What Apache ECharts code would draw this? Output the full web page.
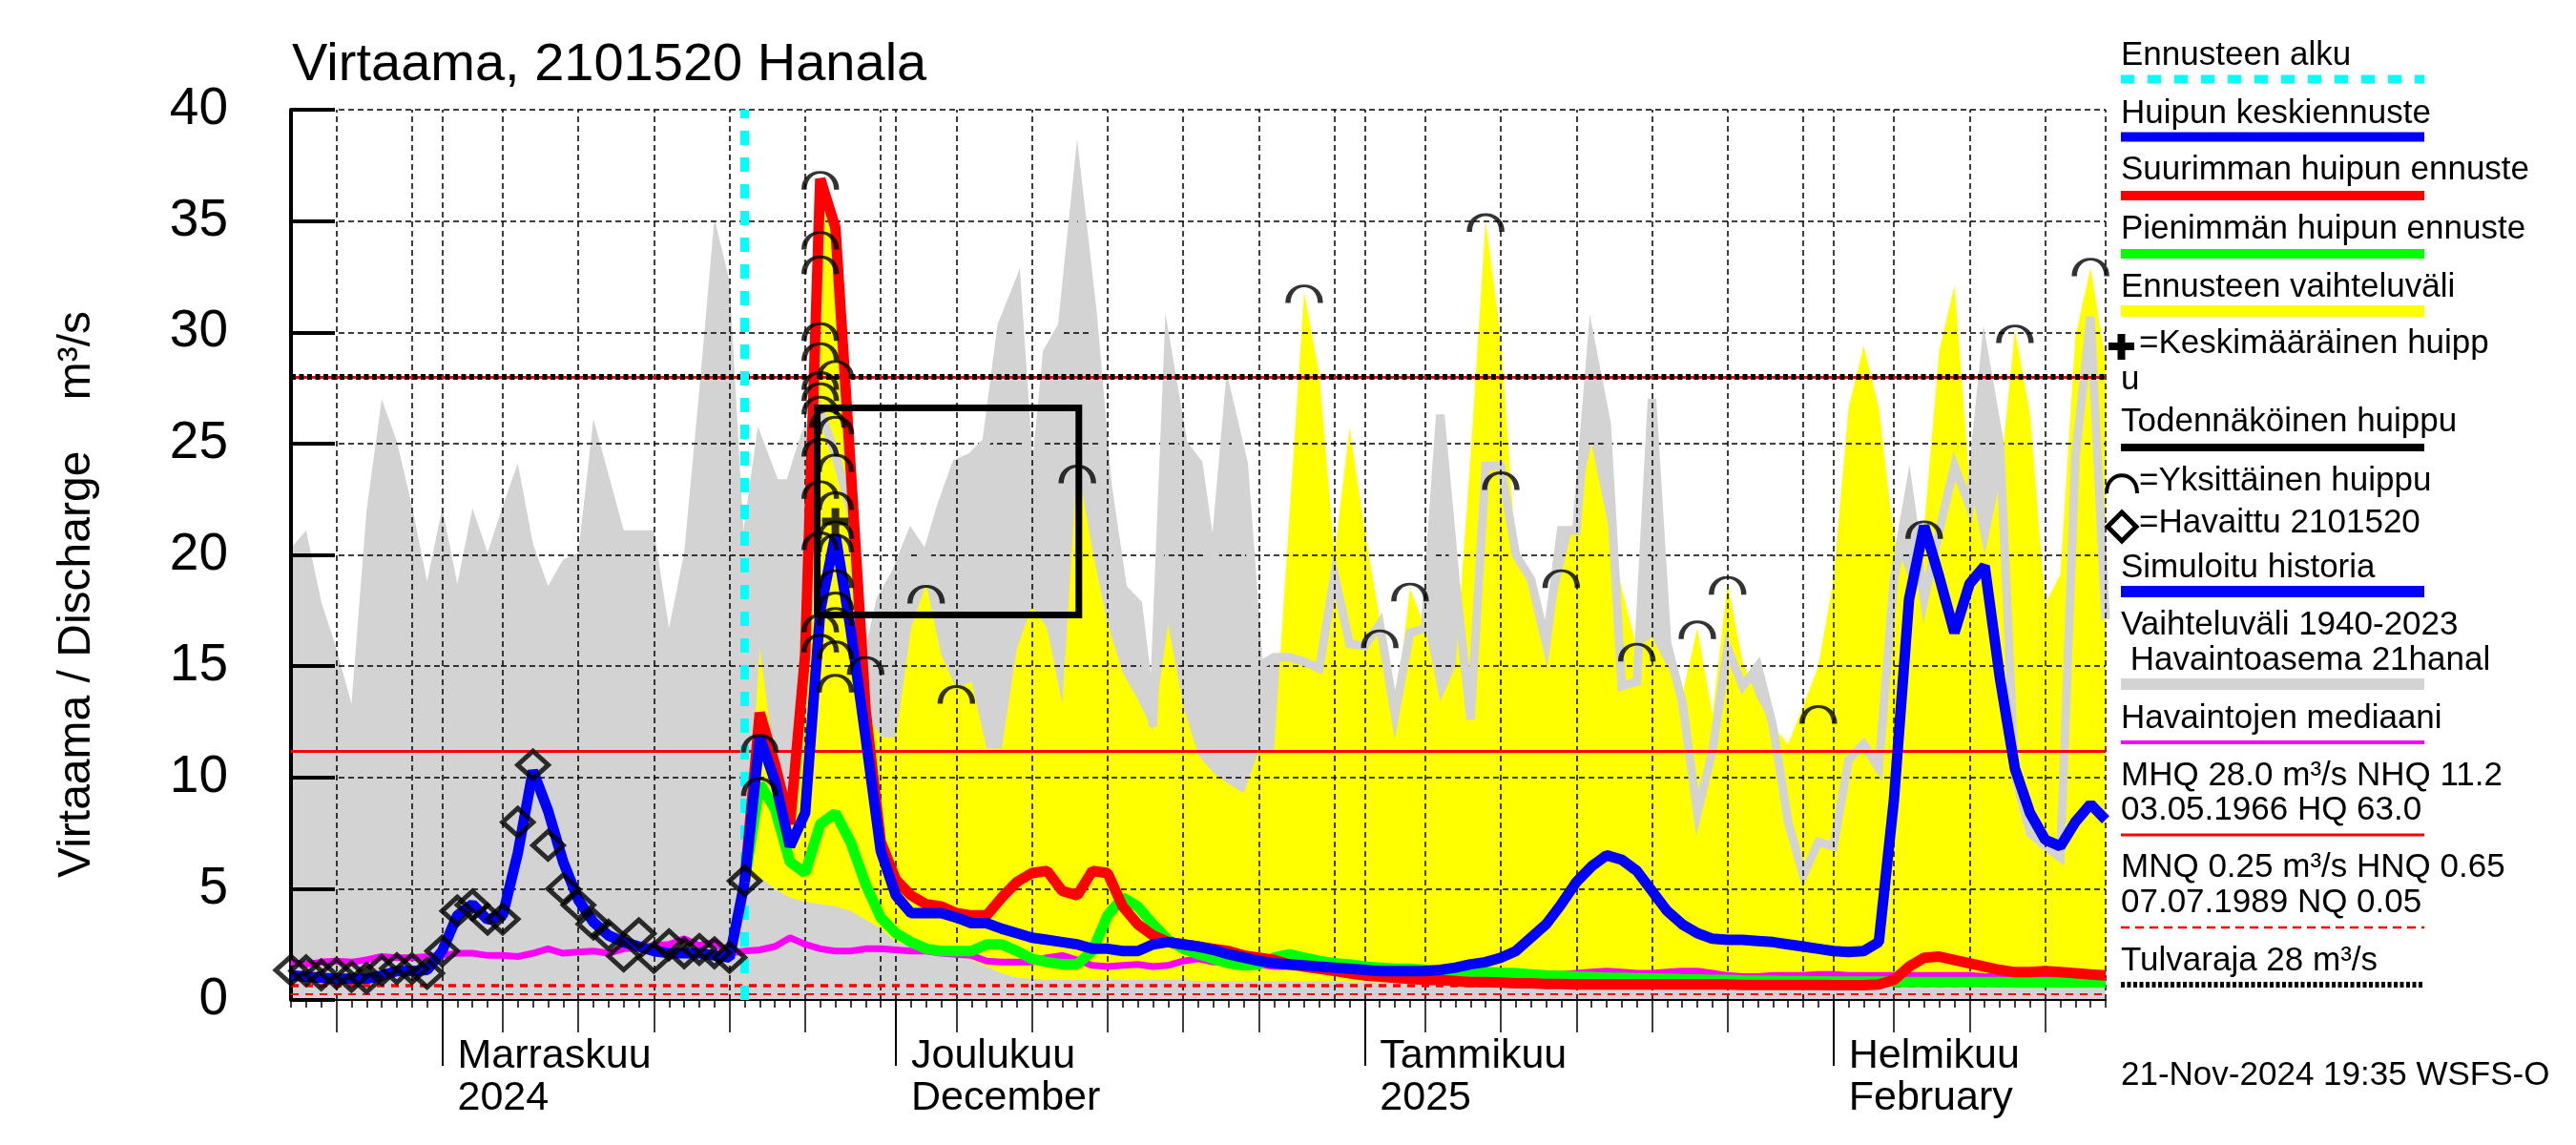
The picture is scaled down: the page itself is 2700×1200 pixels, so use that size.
<!DOCTYPE html>
<html><head><meta charset="utf-8">
<script src="https://cdn.jsdelivr.net/npm/echarts@6/dist/echarts.min.js"></script>
<style>html,body{margin:0;padding:0;background:#fff}#c{width:2700px;height:1200px}</style>
</head><body><div id="c"></div><script>
// ---------------- DATA (x = day index: 0 = 22 Oct 2024, 120 = 19 Feb 2025) ----------------
const observed = [1.34,1.31,1.13,1.2,1.05,0.98,1.34,1.41,1.41,1.2,2.2,4.0,4.27,3.63,3.63,7.99,10.56,6.95,5.0,4.27,3.41,2.91,1.98,2.98,1.91,2.48,2.12,2.27,2.12,1.91,5.35];
const simHistory = [1.1,1.05,1.0,0.95,0.95,0.95,1.1,1.3,1.3,1.35,2.2,3.8,4.3,3.6,3.8,6.6,10.3,8.5,6.2,4.5,3.5,2.9,2.6,2.4,2.2,2.1,2.1,2.1,2.0,1.9,5.3];
const forecastStart = 30;
const meanForecast = [5.3,11.8,9.85,6.9,8.4,17.5,20.9,16.7,11.8,6.7,
 4.7,3.9,3.9,3.9,3.7,3.45,3.45,3.2,3.0,2.8,
 2.7,2.6,2.5,2.3,2.3,2.2,2.2,2.5,2.6,2.5,
 2.4,2.25,2.05,1.9,1.75,1.65,1.6,1.55,1.5,1.45,
 1.4,1.35,1.3,1.3,1.3,1.3,1.35,1.45,1.6,1.7,
 1.9,2.2,2.8,3.4,4.3,5.3,6.0,6.5,6.3,5.8,
 4.9,4.0,3.4,3.0,2.75,2.7,2.7,2.65,2.6,2.5,
 2.4,2.3,2.2,2.15,2.2,2.6,9.0,18.0,21.3,19.0,
 16.5,18.7,19.5,14.5,10.4,8.4,7.2,6.9,8.0,8.8,8.1];
const maxForecast = [5.3,12.9,10.6,7.9,15.5,36.9,34.7,24.0,13.0,7.1,
 5.4,4.7,4.3,4.2,3.9,3.8,3.8,4.6,5.3,5.7,
 5.8,4.9,4.7,5.8,5.7,4.2,3.4,2.9,2.6,2.5,
 2.4,2.3,2.2,2.0,1.9,1.8,1.6,1.5,1.4,1.3,
 1.2,1.1,1.05,1.0,0.95,0.9,0.9,0.85,0.8,0.8,
 0.78,0.75,0.75,0.72,0.72,0.7,0.7,0.7,0.7,0.7,
 0.7,0.7,0.7,0.7,0.7,0.7,0.68,0.68,0.68,0.68,
 0.68,0.68,0.66,0.66,0.66,0.7,0.9,1.5,1.9,1.95,
 1.8,1.65,1.5,1.35,1.25,1.25,1.3,1.25,1.2,1.15,1.1];
const minForecast = [5.3,9.7,8.6,6.2,5.7,7.9,8.4,7.1,5.2,3.7,
 3.0,2.6,2.3,2.2,2.2,2.2,2.5,2.5,2.2,1.85,
 1.7,1.6,1.6,2.2,3.8,4.6,4.2,3.4,2.7,2.3,
 2.06,1.85,1.65,1.55,1.6,1.9,2.05,1.9,1.75,1.65,
 1.6,1.5,1.45,1.4,1.4,1.35,1.3,1.3,1.28,1.25,
 1.22,1.2,1.15,1.1,1.08,1.05,1.03,1.0,1.0,0.98,
 0.95,0.95,0.93,0.92,0.9,0.9,0.88,0.87,0.86,0.85,
 0.85,0.84,0.83,0.82,0.82,0.82,0.82,0.8,0.8,0.8,
 0.8,0.8,0.8,0.8,0.78,0.78,0.78,0.78,0.78,0.78,0.78];
const rangeHigh = [5.3,15.8,10.6,7.9,15.5,36.9,34.7,24.0,13.0,11.8,
 11.8,16.7,18.7,15.5,14.0,14.3,11.3,11.3,15.8,17.7,
 16.7,13.3,24.1,20.2,16.9,14.7,13.5,12.1,16.9,13.2,
 11.0,10.2,9.7,9.3,11.2,11.2,21.5,31.8,28.1,20.0,
 25.7,21.1,17.1,12.8,18.5,16.7,13.4,15.0,24.4,35.0,
 29.8,20.0,18.9,16.1,19.1,22.0,25.0,21.7,18.5,15.8,
 16.3,15.0,13.7,16.7,12.8,18.7,15.2,13.5,12.3,11.5,
 13.2,15.0,18.9,26.6,29.4,26.6,20.7,18.9,21.3,29.2,
 32.1,23.3,20.0,23.3,30.1,26.3,17.8,19.1,29.8,32.9,28.7];
const rangeLow = [5.3,5.5,5.0,4.6,4.4,4.3,4.2,4.0,3.6,3.2,
 2.6,2.4,2.2,2.1,2.0,1.8,1.5,1.2,1.0,0.95,
 0.9,0.9,0.9,0.9,0.9,0.9,0.9,0.9,0.9,0.9,
 0.85,0.85,0.85,0.85,0.85,0.85,0.85,0.85,0.85,0.85,
 0.8,0.8,0.8,0.8,0.8,0.8,0.8,0.8,0.8,0.8,
 0.75,0.75,0.75,0.75,0.75,0.75,0.75,0.75,0.75,0.75,
 0.72,0.72,0.72,0.72,0.72,0.72,0.72,0.72,0.72,0.72,
 0.68,0.68,0.68,0.68,0.68,0.68,0.68,0.68,0.68,0.68,
 0.68,0.68,0.68,0.68,0.68,0.68,0.68,0.68,0.68,0.68,0.68];
const histMax = [20.3,21.1,17.9,15.8,13.3,22.0,27.0,25.1,22.2,18.8,
 22.1,18.7,22.1,20.1,22.2,24.1,20.5,18.6,19.8,20.1,
 26.1,23.6,21.1,21.1,21.1,16.7,20.1,27.4,35.1,32.3,
 20.1,25.0,23.2,23.2,25.4,26.5,24.5,22.0,15.0,18.0,
 19.2,20.9,19.9,22.2,24.1,24.4,25.1,30.3,32.0,21.9,
 29.1,30.3,36.9,30.9,23.1,18.5,17.8,12.3,29.0,25.0,
 24.1,19.3,27.0,24.1,15.0,15.4,15.4,15.2,14.9,19.1,
 16.0,15.9,16.9,12.8,16.5,16.7,26.3,18.9,12.6,24.0,
 24.0,20.0,18.9,16.0,21.1,21.1,29.4,25.9,14.1,14.3,
 27.0,16.0,13.4,8.4,11.2,15.8,14.1,15.0,12.3,8.0,
 5.6,7.1,6.9,10.8,11.5,10.4,18.9,22.8,18.0,21.1,
 24.0,22.2,28.9,25.0,10.1,7.5,6.9,6.4,24.4,30.7,17.1];
const histMin = 0;
const median = [1.7,1.6,1.7,1.75,1.7,1.8,1.95,1.9,1.9,1.95,
 2.0,2.1,2.1,2.0,2.0,1.95,2.1,2.3,2.1,2.15,
 2.2,2.1,2.3,2.35,2.45,2.5,2.75,2.45,2.6,2.1,
 2.2,2.25,2.4,2.8,2.5,2.3,2.2,2.2,2.3,2.3,
 2.25,2.2,2.2,2.1,2.05,2.0,1.75,1.7,1.7,1.7,
 1.9,2.0,1.8,1.55,1.5,1.55,1.6,1.5,1.55,1.75,
 1.85,1.7,1.75,1.8,1.6,1.5,1.5,1.5,1.5,1.5,
 1.45,1.4,1.35,1.35,1.3,1.3,1.25,1.25,1.2,1.15,
 1.1,1.1,1.05,1.1,1.15,1.2,1.25,1.3,1.25,1.2,
 1.2,1.25,1.3,1.3,1.2,1.1,1.05,1.05,1.1,1.1,
 1.1,1.15,1.15,1.1,1.1,1.1,1.1,1.1,1.1,1.1,
 1.1,1.1,1.05,1.05,1.05,1.05,1.05,1.0,1.0,1.0,1.0];
const singlePeaks = [[35,37.1],[35,34.4],[35,33.3],[35,30.3],[35,29.4],[36,28.6],[35,28.1],[35,27.6],[35,27.0],
 [35.5,26.4],[36,26.1],[35,25.1],[36,24.4],[35,23.2],[36,22.7],[35,20.9],[36,21.4],[36,20.8],[36,19.2],
 [36,18.2],[35,17.2],[36,17.5],[35,16.3],[36,16.0],[36,14.5],[38,15.3],[42,18.5],[44,14.0],[52,23.9],
 [31,11.8],[31,9.85],[67,32.0],[72,16.5],[74,18.6],[79,35.2],[80,23.6],[84,19.2],[89,15.9],[93,16.9],
 [95,18.9],[101,13.1],[108,21.4],[114,30.2],[119,33.2]];
const meanPeak = [[36,21.5]];
const probablePeakDays = [34.8, 52.1];
const probablePeakValues = [17.3, 26.6];
const MHQ = 28.0, NHQ = 11.2, HNQ = 0.65, MNQ = 0.25, floodLimit = 28;
const monthDays = [10, 40, 71, 102];
const monthLabels = ['Marraskuu\n2024', 'Joulukuu\nDecember', 'Tammikuu\n2025', 'Helmikuu\nFebruary'];
const fiveDayTicks = [3,14,19,24,29,34,44,49,54,59,64,75,80,85,90,95,106,111,116];
const gridDays = [3,8,10,14,19,24,29,34,39,40,44,49,54,59,64,69,71,75,80,85,90,95,100,102,106,111,116,120];
const dayCount = 120;

// ---------------- BUILD ----------------
const FONT = "'Liberation Sans', Arial, Helvetica, sans-serif";
const pairs = (start, arr) => arr.map((v, i) => [start + i, v]);
const dailyTicks = []; for (let d = 0; d <= dayCount; d++) dailyTicks.push(d);
const boxData = [[probablePeakDays[0], probablePeakValues[0]], [probablePeakDays[0], probablePeakValues[1]],
  [probablePeakDays[1], probablePeakValues[1]], [probablePeakDays[1], probablePeakValues[0]], [probablePeakDays[0], probablePeakValues[0]]];

const baseX = { type: 'value', min: 0, max: dayCount, position: 'bottom', offset: 0, z: 3,
  splitLine: { show: false }, axisLine: { show: false }, axisLabel: { show: false } };
const xAxes = [
  Object.assign({}, baseX, { axisLine: { show: true, lineStyle: { color: '#000', width: 2 } },
    axisTick: { show: true, customValues: dailyTicks, length: 8, lineStyle: { color: '#000', width: 1.5 } } }),
  Object.assign({}, baseX, { axisTick: { show: true, customValues: fiveDayTicks, length: 34, lineStyle: { color: '#000', width: 1.5 } } }),
  Object.assign({}, baseX, { axisTick: { show: true, customValues: monthDays, length: 69, lineStyle: { color: '#000', width: 2 } },
    axisLabel: { show: true, customValues: monthDays, formatter: v => monthLabels[monthDays.indexOf(v)] || '',
      align: 'left', padding: [0, 0, 0, 16], margin: 37, fontSize: 43, lineHeight: 44, color: '#000', fontFamily: FONT } })
];

const L = 2223, R = 2541;
const gfx = [];
function txt(t, x, base, size, extra) {
  gfx.push(Object.assign({ type: 'text', x: x, y: base - 0.35 * size, z: 100,
    style: { text: t, fontSize: size, fontFamily: FONT, fill: '#000', align: 'left', verticalAlign: 'middle' } }, extra || {}));
}
function ln(y, color, w, dash) {
  gfx.push({ type: 'line', z: 100, shape: { x1: L, y1: y, x2: R, y2: y }, style: { stroke: color, lineWidth: w, lineDash: dash || null } });
}
txt('Virtaama, 2101520 Hanala', 306, 88, 56);
gfx.push({ type: 'text', x: 81, y: 623, rotation: Math.PI / 2, z: 100,
  style: { text: 'Virtaama / Discharge    m³/s', fontSize: 48, fontFamily: FONT, fill: '#000', align: 'center', verticalAlign: 'middle' } });
txt('Ennusteen alku', L, 71, 35); ln(83, '#00ffff', 9, [14, 14]);
txt('Huipun keskiennuste', L, 132, 35); ln(143.5, '#0000ff', 10);
txt('Suurimman huipun ennuste', L, 191, 35); ln(205, '#ff0000', 10);
txt('Pienimmän huipun ennuste', L, 253, 35); ln(266, '#00ff00', 10);
txt('Ennusteen vaihteluväli', L, 314, 35); ln(326, '#ffff00', 12);
gfx.push({ type: 'rect', z: 100, shape: { x: 2210, y: 359, width: 27, height: 8 }, style: { fill: '#000' } });
gfx.push({ type: 'rect', z: 100, shape: { x: 2219.5, y: 350, width: 8, height: 27 }, style: { fill: '#000' } });
txt('=Keskimääräinen huipp', 2242, 373, 35);
txt('u', L, 411, 35);
txt('Todennäköinen huippu', L, 455, 35); ln(469, '#000', 8);
gfx.push({ type: 'bezierCurve', z: 100,
  shape: { x1: 2208, y1: 517, cpx1: 2208, cpy1: 492, cpx2: 2240, cpy2: 492, x2: 2240, y2: 517 },
  style: { stroke: '#000', lineWidth: 4, fill: null } });
txt('=Yksittäinen huippu', 2242, 517, 35);
gfx.push({ type: 'polygon', z: 100, shape: { points: [[2209, 552], [2224, 537], [2239, 552], [2224, 567]] },
  style: { stroke: '#000', lineWidth: 5, fill: null } });
txt('=Havaittu 2101520', 2242, 561, 35);
txt('Simuloitu historia', L, 608, 35); ln(620, '#0000ff', 12);
txt('Vaihteluväli 1940-2023', L, 668, 35);
txt(' Havaintoasema 21hanal', L, 705, 35); ln(717, '#d3d3d3', 12);
txt('Havaintojen mediaani', L, 766, 35); ln(778, '#ff00ff', 4);
txt('MHQ 28.0 m³/s NHQ 11.2', L, 826, 35);
txt('03.05.1966 HQ 63.0', L, 862, 35); ln(875, '#ff0000', 3);
txt('MNQ 0.25 m³/s HNQ 0.65', L, 922, 35);
txt('07.07.1989 NQ 0.05', L, 959, 35); ln(972, '#ff0000', 2.5, [9, 6]);
txt('Tulvaraja 28 m³/s', L, 1020, 35); ln(1032, '#000', 6, [4, 2.5]);
txt('21-Nov-2024 19:35 WSFS-O', L, 1140, 35);

const lineBase = { type: 'line', symbol: 'none', showSymbol: false, smooth: false, silent: true, animation: false };
const ml = (data) => ({ silent: true, symbol: ['none', 'none'], label: { show: false }, animation: false, data: data });
const GREY = '#d3d3d3';

const option = {
  animation: false,
  backgroundColor: '#fff',
  grid: { left: 305, top: 115, right: 493, bottom: 152, containLabel: false },
  xAxis: xAxes,
  yAxis: { type: 'value', min: 0, max: 40, interval: 5, z: 3,
    axisLine: { show: true, lineStyle: { color: '#000', width: 4 } },
    axisTick: { show: true, inside: true, length: 46, lineStyle: { color: '#000', width: 4 } },
    axisLabel: { fontSize: 55, fontFamily: FONT, color: '#000', margin: 66, padding: [0, 0, 16, 0] },
    splitLine: { show: true, lineStyle: { color: '#000', width: 1.5, type: [6, 4] } } },
  graphic: gfx,
  series: [
    // historical range 1940-2023 (from its minimum up to its maximum)
    Object.assign({}, lineBase, { name: 'hist', data: pairs(0, histMax), z: 1, lineStyle: { width: 0 },
      areaStyle: { color: GREY, opacity: 1, origin: histMin } }),
    // forecast range: yellow up to rangeHigh; below rangeLow the historical range colour shows
    Object.assign({}, lineBase, { name: 'rangeHigh', data: pairs(forecastStart, rangeHigh), z: 2, lineStyle: { width: 0 },
      areaStyle: { color: '#ffff00', opacity: 1, origin: 0 } }),
    Object.assign({}, lineBase, { name: 'rangeLow', data: pairs(forecastStart, rangeLow), z: 2, lineStyle: { width: 0 },
      areaStyle: { color: GREY, opacity: 1, origin: 0 } }),
    Object.assign({}, lineBase, { name: 'vgrid', data: [[0, 0]], z: 3, lineStyle: { width: 0 },
      markLine: Object.assign(ml(gridDays.map(d => ({ xAxis: d }))), { lineStyle: { color: '#000', width: 1.5, type: [6, 4] } }) }),
    Object.assign({}, lineBase, { name: 'refs', data: [[0, 0]], z: 3, lineStyle: { width: 0 },
      markLine: ml([
        { yAxis: NHQ, lineStyle: { color: '#ff0000', width: 3, type: 'solid' } },
        { yAxis: HNQ, lineStyle: { color: '#ff0000', width: 3.5, type: [8, 7] } },
        { yAxis: MNQ, lineStyle: { color: '#ff0000', width: 2, type: [8, 7] } },
        { yAxis: MHQ, lineStyle: { color: '#ff0000', width: 3, type: 'solid' } },
        { yAxis: floodLimit, lineStyle: { color: '#000', width: 6, type: [5, 3.5] } },
        { xAxis: forecastStart, lineStyle: { color: '#00ffff', width: 9, type: [15, 13] } }
      ]) }),
    Object.assign({}, lineBase, { name: 'histLine', data: pairs(forecastStart, histMax.slice(forecastStart)), z: 4,
      lineStyle: { color: GREY, width: 9, join: 'miter' } }),
    Object.assign({}, lineBase, { name: 'median', data: pairs(0, median), z: 5, lineStyle: { color: '#ff00ff', width: 7 } }),
    Object.assign({}, lineBase, { name: 'min', data: pairs(forecastStart, minForecast), z: 5, lineStyle: { color: '#00ff00', width: 11 } }),
    Object.assign({}, lineBase, { name: 'max', data: pairs(forecastStart, maxForecast), z: 5, lineStyle: { color: '#ff0000', width: 11 } }),
    Object.assign({}, lineBase, { name: 'mean', data: pairs(forecastStart, meanForecast), z: 5, lineStyle: { color: '#0000ff', width: 11 } }),
    Object.assign({}, lineBase, { name: 'sim', data: pairs(0, simHistory), z: 5, lineStyle: { color: '#0000ff', width: 11 } }),
    Object.assign({}, lineBase, { name: 'box', data: boxData, z: 5, lineStyle: { color: '#000', width: 7, join: 'miter' } }),
    { type: 'scatter', name: 'obs', data: pairs(0, observed), z: 6, silent: true, symbol: 'diamond', symbolSize: [32, 29],
      itemStyle: { color: 'rgba(0,0,0,0)', borderColor: '#000', borderWidth: 5 } },
    { type: 'scatter', name: 'peaks', data: singlePeaks, z: 6, silent: true,
      symbol: 'path://M0,16 C0,-5.33 32,-5.33 32,16', symbolSize: [34, 18], symbolOffset: [0, 7],
      itemStyle: { color: 'rgba(0,0,0,0)', borderColor: '#000', borderWidth: 4 } },
    { type: 'scatter', name: 'meanPeak', data: meanPeak, z: 6, silent: true,
      symbol: 'path://M10,0 H18 V10 H28 V18 H18 V28 H10 V18 H0 V10 H10 Z', symbolSize: 28,
      itemStyle: { color: '#000' } }
  ]
};
const chart = echarts.init(document.getElementById('c'), null, { renderer: 'canvas' });
chart.setOption(option);
</script></body></html>
